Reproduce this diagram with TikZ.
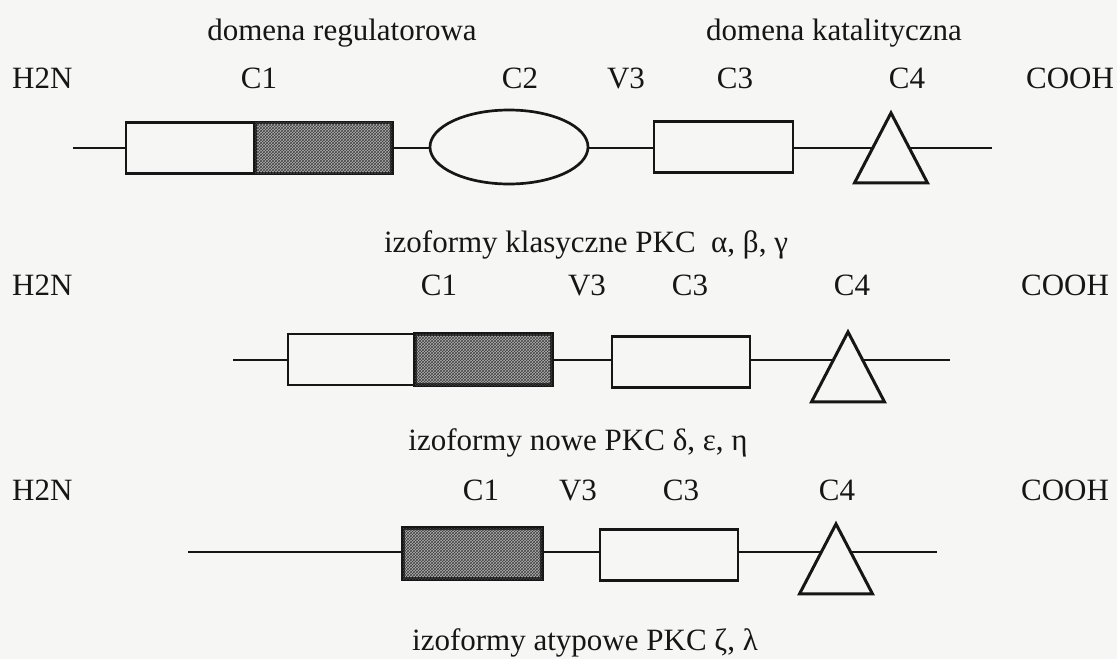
\documentclass[tikz,border=0pt]{standalone}
\usepackage{fontspec}
\setmainfont{Liberation Serif}
\usetikzlibrary{shapes.geometric,patterns}
\definecolor{paper}{RGB}{246,246,244}
\definecolor{ink}{RGB}{22,22,22}

\begin{document}
\begin{tikzpicture}[
    x=1pt, y=-1pt,
    lbl/.style={anchor=base, inner sep=0pt, text=ink, font=\fontsize{31}{37}\selectfont},
    dom/.style={draw=ink, line width=2.7pt, fill=paper, inner sep=0pt},
    plain/.style={dom, rectangle, minimum height=51pt},
    hatched/.style={plain, line width=3.2pt, fill=gray!60, postaction={pattern=crosshatch, pattern color=black!75}},
    oval/.style={dom, ellipse, minimum width=158pt, minimum height=74pt},
    wedge/.style={dom, line width=3pt, isosceles triangle, isosceles triangle stretches, shape border rotate=90,
        minimum width=73pt, minimum height=70pt, anchor=apex, line join=miter},
    backbone/.style={draw=ink, line width=2.6pt}
]
\fill[paper] (0,0) rectangle (1117,659);
\useasboundingbox (0,0) rectangle (1117,659);

% domain headings
\node[lbl] (regdom) at (342,40) {domena regulatorowa};
\node[lbl] (catdom) at (834,40) {domena katalityczna};

% classical isoforms
\node[lbl, anchor=base west] (aN) at (12,88) {H2N};
\node[lbl] (aC1) at (259,88) {C1};
\node[lbl] (aC2) at (520,88) {C2};
\node[lbl] (aV3) at (626,88) {V3};
\node[lbl] (aC3) at (735,88) {C3};
\node[lbl] (aC4) at (907,88) {C4};
\node[lbl] (aCOOH) at (1070,88) {COOH};
\coordinate (aStart) at (73,148);
\coordinate (aEnd) at (992,148);
\draw[backbone] (aStart) -- (aEnd);
\node[plain, minimum width=129pt] (aPre) at (190.5,148) {};
\node[hatched, minimum width=137pt] (aC1box) at (323.5,148) {};
\node[oval] (aC2box) at (509,147) {};
\node[plain, minimum width=139pt] (aC3box) at (723.5,147) {};
\node[wedge] (aC4box) at (891,109) {};
\node[lbl] (aName) at (586,252) {izoformy klasyczne PKC~\ α, β, γ};

% novel isoforms
\node[lbl, anchor=base west] (bN) at (12,295) {H2N};
\node[lbl] (bC1) at (439,295) {C1};
\node[lbl] (bV3) at (587,295) {V3};
\node[lbl] (bC3) at (690,295) {C3};
\node[lbl] (bC4) at (852,295) {C4};
\node[lbl] (bCOOH) at (1065,295) {COOH};
\coordinate (bStart) at (233,360);
\coordinate (bEnd) at (950,360);
\draw[backbone] (bStart) -- (bEnd);
\node[plain, minimum width=127pt] (bPre) at (351.5,359.5) {};
\node[hatched, minimum width=137pt] (bC1box) at (483.5,359.5) {};
\node[plain, minimum width=138pt] (bC3box) at (681,362) {};
\node[wedge] (bC4box) at (848,328) {};
\node[lbl] (bName) at (578,450) {izoformy nowe PKC δ, ε, η};

% atypical isoforms
\node[lbl, anchor=base west] (cN) at (12,500) {H2N};
\node[lbl] (cC1) at (481,500) {C1};
\node[lbl] (cV3) at (578,500) {V3};
\node[lbl] (cC3) at (681,500) {C3};
\node[lbl] (cC4) at (837,500) {C4};
\node[lbl] (cCOOH) at (1065,500) {COOH};
\coordinate (cStart) at (188,552);
\coordinate (cEnd) at (937,552);
\draw[backbone] (cStart) -- (cEnd);
\node[hatched, minimum width=139pt] (cC1box) at (472.5,553.5) {};
\node[plain, minimum width=138pt] (cC3box) at (669,555) {};
\node[wedge] (cC4box) at (836,520) {};
\node[lbl] (cName) at (585,650) {izoformy atypowe PKC ζ, λ};
\end{tikzpicture}
\end{document}
